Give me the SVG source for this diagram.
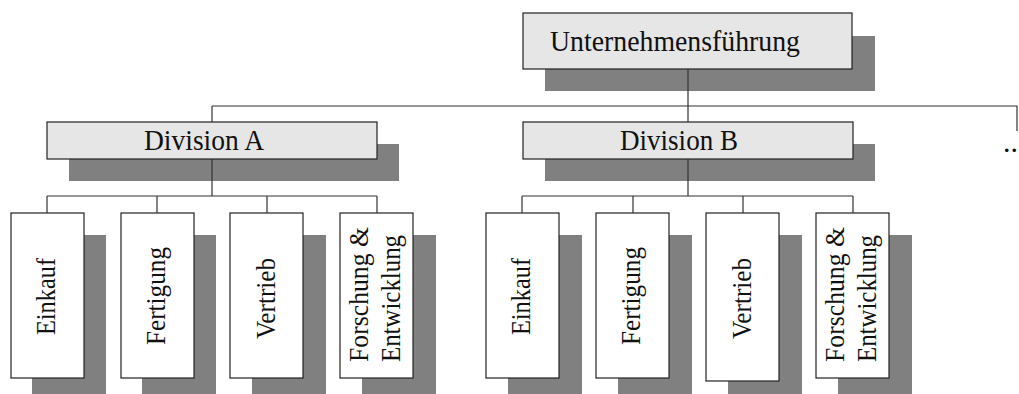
<svg xmlns="http://www.w3.org/2000/svg" width="1019" height="394" viewBox="0 0 1019 394">
  <style>
    .shadow { fill: #808080; }
    .head { fill: #e6e6e6; stroke: #222; stroke-width: 1.2; }
    .unit { fill: #ffffff; stroke: #222; stroke-width: 1.2; }
    .lbl { font-family: "Liberation Serif", "Times New Roman", serif; fill: #111; }
    .big { font-size: 30px; }
    .vert { font-size: 27px; }
    .conn { stroke: #333; stroke-width: 1.2; fill: none; }
  </style>
  <rect width="1019" height="394" fill="#ffffff"/>

  <!-- top management -->
  <g id="ceo">
    <rect class="shadow" x="545" y="36" width="330" height="55"/>
    <rect class="head" x="523" y="13" width="329" height="56"/>
    <text class="lbl big" x="550" y="51" textLength="250" lengthAdjust="spacingAndGlyphs">Unternehmensführung</text>
  </g>

  <!-- divisions -->
  <g id="divA">
    <rect class="shadow" x="69" y="144" width="330" height="37"/>
    <rect class="head" x="47" y="122" width="330" height="37"/>
    <text class="lbl big" x="144" y="150" textLength="120" lengthAdjust="spacingAndGlyphs">Division A</text>
  </g>
  <g id="divB">
    <rect class="shadow" x="545" y="144" width="330" height="37"/>
    <rect class="head" x="523" y="122" width="330" height="37"/>
    <text class="lbl big" x="620" y="150" textLength="118" lengthAdjust="spacingAndGlyphs">Division B</text>
  </g>

  <!-- continuation -->
  <g id="more">
    <text class="lbl big" x="1003" y="152">..</text>
  </g>

  <!-- functional units, Division A -->
  <g id="a-einkauf">
    <rect class="shadow" x="32" y="235" width="74" height="165"/>
    <rect class="unit" x="11" y="213" width="73" height="165"/>
    <text class="lbl vert" transform="translate(55,296.5) rotate(-90)" text-anchor="middle" textLength="77" lengthAdjust="spacingAndGlyphs">Einkauf</text>
  </g>
  <g id="a-fertigung">
    <rect class="shadow" x="142" y="235" width="74" height="165"/>
    <rect class="unit" x="121" y="213" width="73" height="165"/>
    <text class="lbl vert" transform="translate(165,296) rotate(-90)" text-anchor="middle" textLength="98" lengthAdjust="spacingAndGlyphs">Fertigung</text>
  </g>
  <g id="a-vertrieb">
    <rect class="shadow" x="252" y="235" width="74" height="165"/>
    <rect class="unit" x="230" y="213" width="73" height="165"/>
    <text class="lbl vert" transform="translate(275,298.5) rotate(-90)" text-anchor="middle" textLength="81" lengthAdjust="spacingAndGlyphs">Vertrieb</text>
  </g>
  <g id="a-fue">
    <rect class="shadow" x="362" y="235" width="74" height="165"/>
    <rect class="unit" x="340" y="213" width="73" height="165"/>
    <text class="lbl vert" transform="translate(368,362) rotate(-90)" textLength="135" lengthAdjust="spacingAndGlyphs">Forschung &amp;</text>
    <text class="lbl vert" transform="translate(400,362) rotate(-90)" textLength="127" lengthAdjust="spacingAndGlyphs">Entwicklung</text>
  </g>

  <!-- functional units, Division B -->
  <g id="b-einkauf">
    <rect class="shadow" x="508" y="235" width="74" height="165"/>
    <rect class="unit" x="486" y="213" width="73" height="165"/>
    <text class="lbl vert" transform="translate(530,296.5) rotate(-90)" text-anchor="middle" textLength="77" lengthAdjust="spacingAndGlyphs">Einkauf</text>
  </g>
  <g id="b-fertigung">
    <rect class="shadow" x="618" y="235" width="74" height="165"/>
    <rect class="unit" x="596" y="213" width="73" height="165"/>
    <text class="lbl vert" transform="translate(640,296) rotate(-90)" text-anchor="middle" textLength="98" lengthAdjust="spacingAndGlyphs">Fertigung</text>
  </g>
  <g id="b-vertrieb">
    <rect class="shadow" x="728" y="235" width="74" height="165"/>
    <rect class="unit" x="706" y="213" width="73" height="168"/>
    <text class="lbl vert" transform="translate(751,298.5) rotate(-90)" text-anchor="middle" textLength="81" lengthAdjust="spacingAndGlyphs">Vertrieb</text>
  </g>
  <g id="b-fue">
    <rect class="shadow" x="838" y="235" width="74" height="165"/>
    <rect class="unit" x="816" y="213" width="73" height="165"/>
    <text class="lbl vert" transform="translate(844,362) rotate(-90)" textLength="135" lengthAdjust="spacingAndGlyphs">Forschung &amp;</text>
    <text class="lbl vert" transform="translate(876,362) rotate(-90)" textLength="127" lengthAdjust="spacingAndGlyphs">Entwicklung</text>
  </g>

  <!-- connectors -->
  <g id="connectors" class="conn">
    <path d="M688,69 V122 M212,106 H1017 V131 M212,106 V122"/>
    <path d="M212,159 V196 M47,196 H377 M47,196 V213 M157,196 V213 M267,196 V213 M377,196 V213"/>
    <path d="M688,159 V196 M522,196 H853 M522,196 V213 M633,196 V213 M743,196 V213 M853,196 V213"/>
  </g>
</svg>
